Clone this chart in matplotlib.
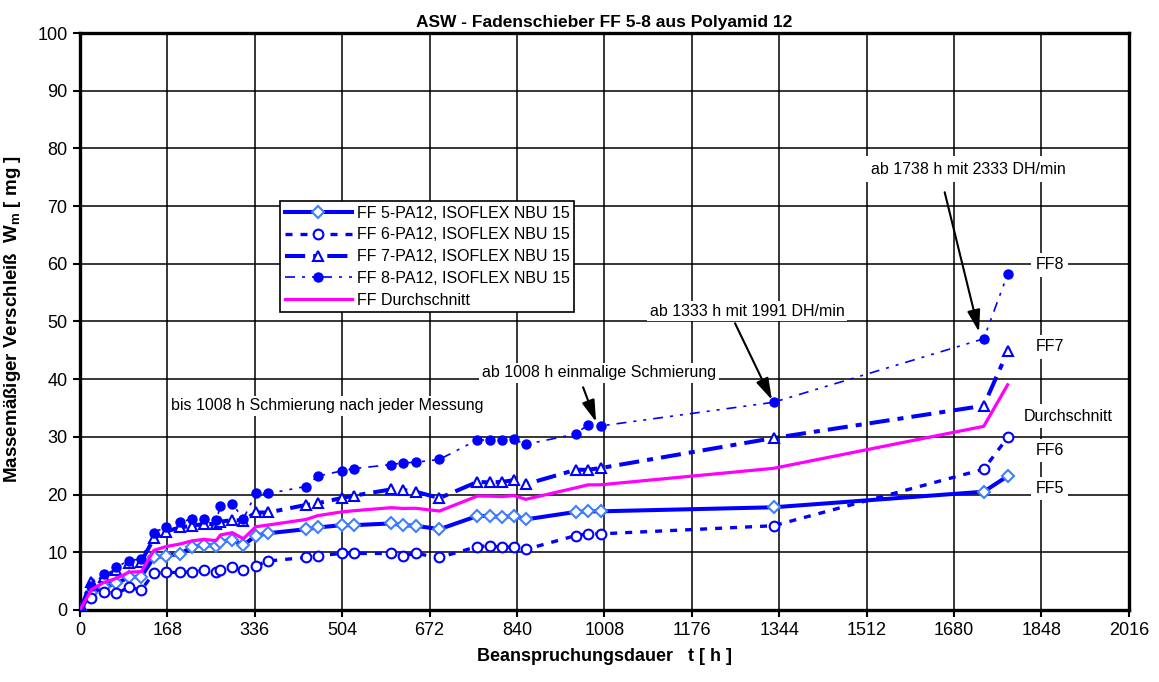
import matplotlib
matplotlib.use("Agg")
import matplotlib.pyplot as plt

plt.rcParams["font.family"] = ["Liberation Sans", "DejaVu Sans"]
plt.rcParams["mathtext.fontset"] = "custom"
plt.rcParams["mathtext.rm"] = "Liberation Sans"
plt.rcParams["mathtext.bf"] = "Liberation Sans:bold"

# measurement times [h]
hours = [0, 22, 46, 70, 94, 118, 142, 165, 192, 215, 238, 262, 270, 293, 314, 338, 362,
         434, 457, 503, 526, 598, 621, 645, 691, 764, 788, 811, 834, 857, 953, 976, 1001,
         1333, 1737, 1783]

# wear [mg]
ff5 = [0, 3.0, 4.0, 4.6, 5.7, 5.8, 9.1, 9.4, 9.7, 10.9, 11.3, 11.1, 11.8, 12.2, 11.2, 12.9, 13.3,
       14.0, 14.3, 14.7, 14.7, 15.0, 14.7, 14.6, 14.0, 16.3, 16.3, 16.1, 16.3, 15.7, 17.0, 17.1, 17.1,
       17.8, 20.5, 23.2]
ff6 = [0, 2.1, 3.1, 2.9, 3.9, 3.5, 6.4, 6.5, 6.5, 6.6, 6.9, 6.5, 6.9, 7.4, 6.9, 7.7, 8.5,
       9.1, 9.4, 9.8, 9.8, 9.8, 9.4, 9.8, 9.1, 11.0, 11.1, 10.9, 10.9, 10.5, 12.9, 13.2, 13.2,
       14.6, 24.4, 29.9]
ff7 = [0, 4.9, 5.8, 6.9, 8.1, 8.4, 12.4, 13.6, 14.3, 14.6, 14.9, 14.9, 15.3, 15.6, 15.5, 16.9, 16.9,
       18.2, 18.5, 19.4, 19.8, 20.9, 20.8, 20.5, 19.4, 22.2, 22.1, 22.2, 22.5, 21.8, 24.3, 24.3, 24.6,
       29.8, 35.4, 44.8]
ff8 = [0, 4.2, 6.2, 7.5, 8.5, 8.9, 13.4, 14.4, 15.2, 15.8, 15.8, 15.6, 18.0, 18.4, 15.8, 20.2, 20.2,
       21.4, 23.2, 24.1, 24.5, 25.2, 25.5, 25.6, 26.1, 29.5, 29.4, 29.4, 29.6, 28.7, 30.5, 32.1, 31.9,
       36.0, 47.0, 58.2]
ff_avg = [0, 3.55, 4.78, 5.48, 6.55, 6.65, 10.33, 10.98, 11.43, 11.98, 12.23, 12.03, 13.0, 13.4, 12.35,
          14.43, 14.73, 15.68, 16.35, 17.0, 17.2, 17.73, 17.6, 17.63, 17.15, 19.75, 19.73, 19.65, 19.83,
          19.18, 21.18, 21.68, 21.7, 24.55, 31.83, 39.03]

x_ticks = list(range(0, 2017, 168))
y_ticks = list(range(0, 101, 10))

blue = "#0000ff"

fig = plt.figure(figsize=(11.59, 6.82), dpi=100)
ax = fig.add_axes([0.069, 0.1056, 0.905, 0.846])

ax.plot(hours, ff5, color=blue, lw=2.9, ls="-", marker="D", ms=6, mfc="white",
        mec="#3f7fff", mew=1.5, label="FF 5-PA12, ISOFLEX NBU 15", zorder=3)
ax.plot(hours, ff6, color=blue, lw=2.4, ls=(0, (2.1, 2.4)), marker="o", ms=7, mfc="white",
        mec=blue, mew=1.5, label="FF 6-PA12, ISOFLEX NBU 15", zorder=3)
ax.plot(hours, ff7, color=blue, lw=2.9, ls=(0, (5, 2, 1.5, 2)), marker="^", ms=7.5, mfc="white",
        mec=blue, mew=1.5, label="FF 7-PA12, ISOFLEX NBU 15", zorder=3)
ax.plot(hours, ff8, color=blue, lw=1.2, ls=(0, (6, 4.2, 1.8, 4.2, 1.8, 4.2)), marker="o", ms=6.5,
        mfc=blue, mec=blue, label="FF 8-PA12, ISOFLEX NBU 15", zorder=3)
ax.plot(hours, ff_avg, color="#ff00ff", lw=2.3, label="FF Durchschnitt", zorder=4)

ax.set_xlim(0, 2016)
ax.set_ylim(0, 100)
ax.set_xticks(x_ticks)
ax.set_yticks(y_ticks)
ax.grid(True, color="black", lw=1.1)
ax.set_axisbelow(True)
for spine in ax.spines.values():
    spine.set_linewidth(2.4)
ax.tick_params(direction="out", length=5, width=1.5, labelsize=13, pad=4)

ax.set_title("ASW - Fadenschieber FF 5-8 aus Polyamid 12", fontsize=12.5, fontweight="bold", pad=4)
ax.set_xlabel("Beanspruchungsdauer   t [ h ]", fontsize=13, fontweight="bold", labelpad=6)
ax.set_ylabel(r"Massemäßiger Verschleiß  $\mathbf{W_m}$ [ mg ]", fontsize=13.5, fontweight="bold",
              labelpad=3)
ax.yaxis.set_label_coords(-0.054, 0.505)

leg = ax.legend(loc="upper left", bbox_to_anchor=(0.1907, 0.709), borderaxespad=0, fontsize=11.5,
                fancybox=False, edgecolor="black", framealpha=1, handlelength=4.2,
                labelspacing=0.42, borderpad=0.3, handletextpad=0.3)
leg.get_frame().set_linewidth(1.2)
leg.set_zorder(6)

box = dict(facecolor="white", edgecolor="none", pad=2)
ax.text(175, 35.4, "bis 1008 h Schmierung nach jeder Messung", fontsize=11.5, va="center",
        bbox=box, zorder=5)
ax.text(773, 41.1, "ab 1008 h einmalige Schmierung", fontsize=11.5, va="center", bbox=box, zorder=5)
ax.text(1095, 51.8, "ab 1333 h mit 1991 DH/min", fontsize=11.5, va="center", bbox=box, zorder=5)
ax.text(1520, 76.4, "ab 1738 h mit 2333 DH/min", fontsize=11.5, va="center",
        bbox=dict(facecolor="white", edgecolor="none", pad=4), zorder=5)

arrow = dict(arrowstyle="-|>,head_length=0.6,head_width=0.18", color="black", lw=1.5,
             mutation_scale=22, shrinkA=0, shrinkB=0)
ax.annotate("", xy=(992, 32.6), xytext=(967, 38.6), arrowprops=arrow, zorder=6)
ax.annotate("", xy=(1330, 36.4), xytext=(1259, 49.7), arrowprops=arrow, zorder=6)
ax.annotate("", xy=(1728, 48.2), xytext=(1662, 72.4), arrowprops=arrow, zorder=6)

for txt, hx, yv in [("FF8", 1864, 59.8), ("FF7", 1864, 45.6), ("Durchschnitt", 1899, 33.6),
                    ("FF6", 1864, 27.7), ("FF5", 1864, 21.1)]:
    ax.text(hx, yv, txt, fontsize=11.5, ha="center", va="center",
            bbox=dict(facecolor="white", edgecolor="none", pad=3), zorder=5)

fig.savefig("out.png", dpi=100)
